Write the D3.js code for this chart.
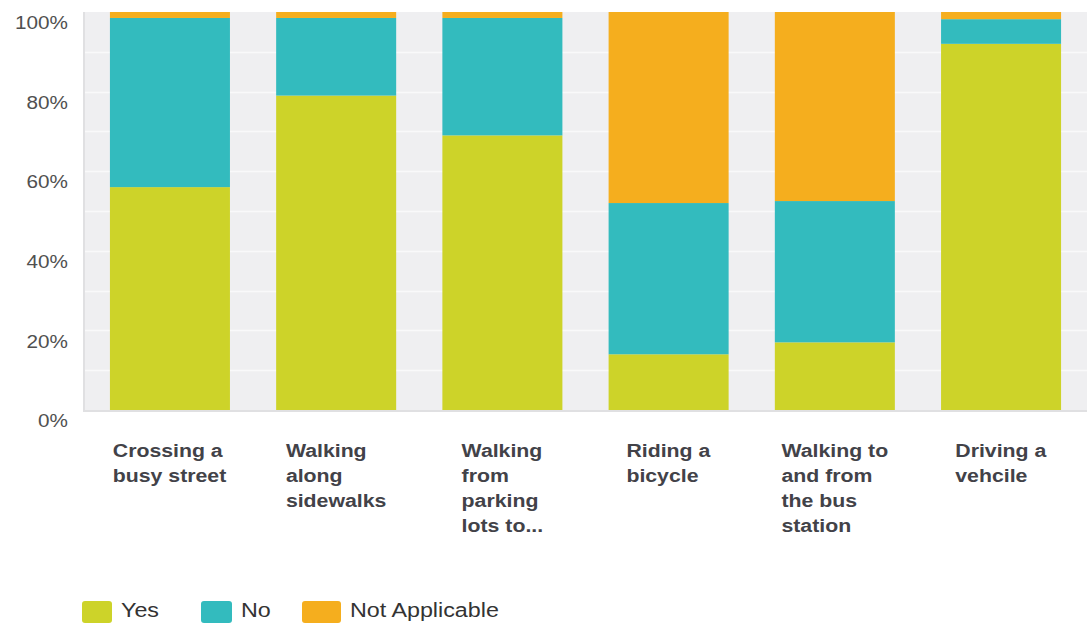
<!DOCTYPE html>
<html>
<head>
<meta charset="utf-8">
<script src="https://cdn.jsdelivr.net/npm/d3@7"></script>
<style>
  body { margin: 0; background: #fff; }
  svg { display: block; font-family: "Liberation Sans", Arial, sans-serif; }
</style>
</head>
<body>
<div class="svgWrapper"></div>
<script>
// Data //
const categories = [
  "Crossing a busy street",
  "Walking along sidewalks",
  "Walking from parking lots to...",
  "Riding a bicycle",
  "Walking to and from the bus station",
  "Driving a vehcile"
];
const categoryLines = [
  ["Crossing a", "busy street"],
  ["Walking", "along", "sidewalks"],
  ["Walking", "from", "parking", "lots to..."],
  ["Riding a", "bicycle"],
  ["Walking to", "and from", "the bus", "station"],
  ["Driving a", "vehcile"]
];
const seriesNames = ["Yes", "No", "Not Applicable"];
const yesValues = [56, 79, 69, 14, 17, 92];
const noValues = [42.5, 19.5, 29.5, 38, 35.5, 6.2];
const naValues = [1.5, 1.5, 1.5, 48, 47.5, 1.8];
const yTicks = [0, 20, 40, 60, 80, 100];
const gridTicks = [10, 20, 30, 40, 50, 60, 70, 80, 90];

// Styles //
const colors = ["#cdd329", "#33bbbe", "#f5ae1e"];
const svgStyles = { w: 1087, h: 624 };
const plot = { left: 83, right: 1088, top: 12, bottom: 410 };
const stretch = 1.12; // text in the reference is widened a bit

const rows = categories.map((c, i) => ({
  category: c,
  "Yes": yesValues[i],
  "No": noValues[i],
  "Not Applicable": naValues[i]
}));

const svg = d3
  .select(".svgWrapper")
  .append("svg")
  .attr("width", svgStyles.w)
  .attr("height", svgStyles.h);

const xScale = d3
  .scaleBand()
  .domain(categories)
  .range([plot.left, plot.right])
  .paddingInner(0.278)
  .paddingOuter(0.162);

const yScale = d3
  .scaleLinear()
  .domain([0, 100])
  .range([plot.bottom, plot.top]);

// plot background
svg
  .append("rect")
  .attr("x", plot.left)
  .attr("y", plot.top)
  .attr("width", plot.right - plot.left)
  .attr("height", plot.bottom - plot.top)
  .attr("fill", "#efeff1");

// white grid lines
svg
  .append("g")
  .selectAll("line")
  .data(gridTicks)
  .enter()
  .append("line")
  .attr("x1", plot.left)
  .attr("x2", plot.right)
  .attr("y1", d => Math.round(yScale(d)) + 0.5)
  .attr("y2", d => Math.round(yScale(d)) + 0.5)
  .attr("stroke", "#f9f9fa")
  .attr("stroke-width", 1.5);

// left and bottom edges
svg
  .append("path")
  .attr("d", `M${plot.left + 1},${plot.top}V${plot.bottom + 1}H${plot.right}`)
  .attr("fill", "none")
  .attr("stroke", "#e0e0e2")
  .attr("stroke-width", 2);

// stacked bars
const stacked = d3.stack().keys(seriesNames)(rows);

svg
  .append("g")
  .selectAll("g")
  .data(stacked)
  .enter()
  .append("g")
  .attr("fill", (d, i) => colors[i])
  .selectAll("rect")
  .data(d => d)
  .enter()
  .append("rect")
  .attr("x", d => xScale(d.data.category))
  .attr("y", d => yScale(d[1]))
  .attr("width", xScale.bandwidth())
  .attr("height", d => yScale(d[0]) - yScale(d[1]));

// Y axis
const yAxis = d3
  .axisLeft(yScale)
  .tickValues(yTicks)
  .tickSize(0)
  .tickFormat(d => d + "%");

const yAxisG = svg
  .append("g")
  .attr("transform", `translate(${plot.left}, 0)`)
  .call(yAxis);

yAxisG.select(".domain").remove();
yAxisG
  .selectAll("text")
  .attr("x", -15 / stretch)
  .attr("dy", "0.9em")
  .attr("transform", `scale(${stretch},1)`)
  .attr("fill", "#505050")
  .style("font-size", "18.5px")
  .style("font-family", "'Liberation Sans', Arial, sans-serif");

// category labels: left aligned block, centred under each bar
const labels = svg
  .append("g")
  .selectAll("g")
  .data(categories)
  .enter()
  .append("g");

labels.each(function(c, i) {
  const g = d3.select(this);
  const t = g
    .append("text")
    .attr("fill", "#424248")
    .style("font-size", "19px")
    .style("font-weight", "bold");
  t.selectAll("tspan")
    .data(categoryLines[i])
    .enter()
    .append("tspan")
    .attr("x", 0)
    .attr("y", (d, k) => k * 25)
    .text(d => d);
  const w = this.getBBox().width * stretch;
  const cx = xScale(c) + xScale.bandwidth() / 2;
  g.attr("transform", `translate(${cx - w / 2}, 457) scale(${stretch},1)`);
});

// legend
const legendX = [82, 201, 302];
const legendW = [30, 31, 39];
const legend = svg
  .append("g")
  .selectAll("g")
  .data(seriesNames)
  .enter()
  .append("g")
  .attr("transform", (d, i) => `translate(${legendX[i]}, 601)`);

legend
  .append("rect")
  .attr("width", (d, i) => legendW[i])
  .attr("height", 22)
  .attr("rx", 3)
  .attr("fill", (d, i) => colors[i]);

legend
  .append("text")
  .attr("transform", (d, i) => `translate(${legendW[i] + 9}, 16) scale(${stretch},1)`)
  .attr("fill", "#333")
  .style("font-size", "20.8px")
  .text(d => d);
</script>
</body>
</html>
